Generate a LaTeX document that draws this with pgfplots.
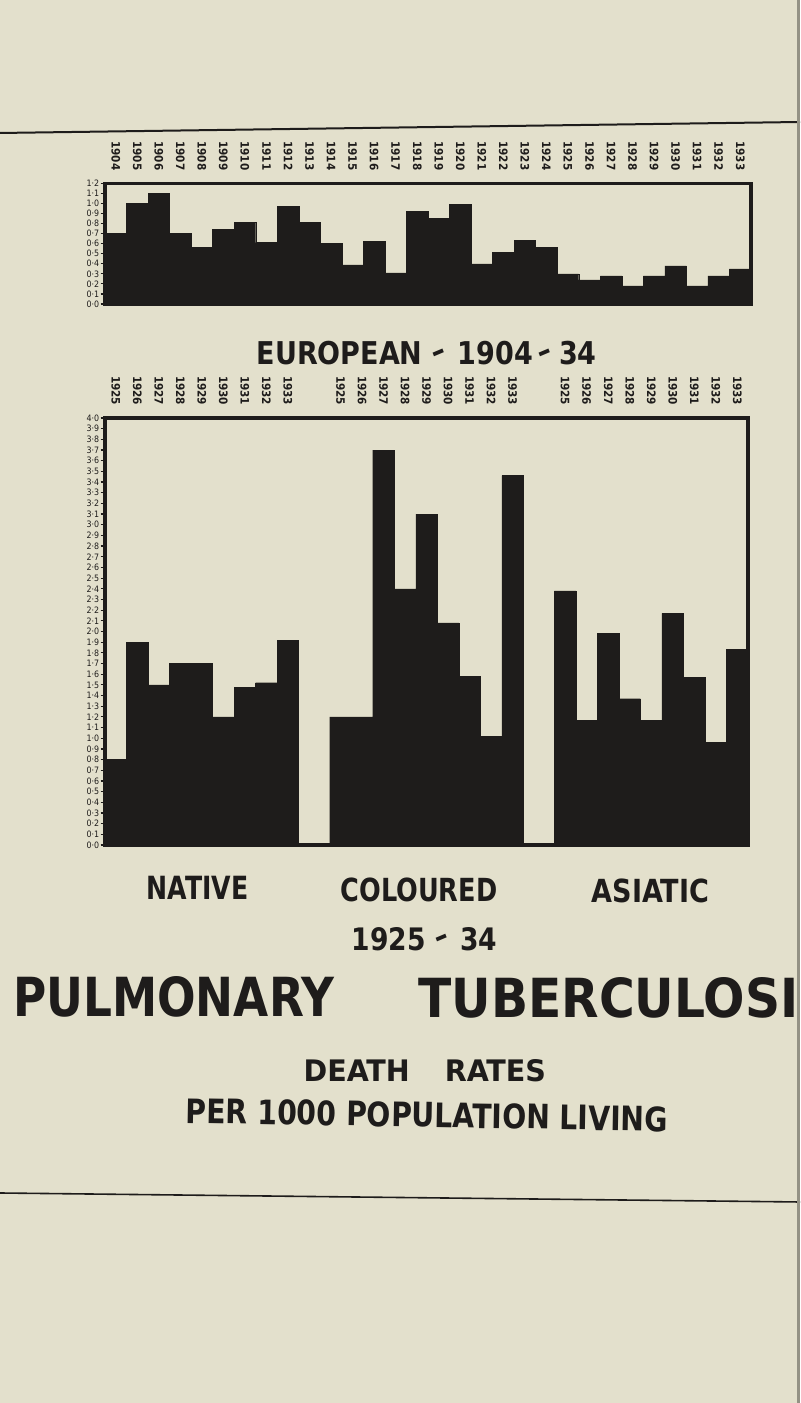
\documentclass[border=0pt]{standalone}
\usepackage{pgfplots}
\pgfplotsset{compat=1.18}
\usepackage{fontspec}
\usepackage{graphicx}
\setmainfont{DejaVu Sans}
\newfontfamily\cond{DejaVu Sans Condensed}
\definecolor{paper}{RGB}{227,224,204}
\definecolor{ink}{RGB}{30,28,27}
\newcommand\tl{\raisebox{0.12em}{\rotatebox[origin=c]{22}{\textendash}}}

\pgfplotstableread{
x y
0 0.70
1 1.00
2 1.10
3 0.70
4 0.56
5 0.74
6 0.81
7 0.61
8 0.97
9 0.81
10 0.60
11 0.39
12 0.62
13 0.31
14 0.92
15 0.85
16 0.99
17 0.40
18 0.51
19 0.63
20 0.56
21 0.30
22 0.24
23 0.28
24 0.18
25 0.28
26 0.38
27 0.18
28 0.28
29 0.35
}\european

\pgfplotstableread{
x y
0 0.80
1 1.90
2 1.50
3 1.70
4 1.70
5 1.20
6 1.48
7 1.52
8 1.92
}\native

\pgfplotstableread{
x y
10.45 1.20
11.45 1.20
12.45 3.70
13.45 2.40
14.45 3.10
15.45 2.08
16.45 1.58
17.45 1.02
18.45 3.46
}\coloured

\pgfplotstableread{
x y
20.9 2.38
21.9 1.17
22.9 1.98
23.9 1.37
24.9 1.17
25.9 2.17
26.9 1.57
27.9 0.96
28.9 1.83
}\asiatic

\pgfplotsset{chartstyle/.style={
  scale only axis, ybar, bar width=1, enlargelimits=false,
  axis line style={line width=1.5pt, ink},
  ytick pos=left, tick align=outside, major tick length=2.2pt,
  ytick style={line width=0.6pt, ink}, xtick style={draw=none},
  xticklabel pos=upper,
  xticklabel style={rotate=-90, anchor=east, font=\cond\bfseries\fontsize{5.8}{5.8}\selectfont, inner sep=0pt, text=ink},
  xticklabel shift=4pt,
  yticklabel style={font=\cond\fontsize{4.4}{4.4}\selectfont, inner sep=0.5pt, text=ink,
    /pgf/number format/.cd, fixed, fixed zerofill, precision=1, set decimal separator={·}, assume math mode=true},
}}

\begin{document}
\begin{tikzpicture}
\useasboundingbox (0,0) rectangle (400pt,701.5pt);
\fill[paper] (0,0) rectangle (400pt,701.5pt);
\begin{scope}
\clip (0,0) rectangle (400pt,701.5pt);

% rules
\draw[ink, line width=1pt] (0,635pt) -- (400pt,640.5pt);
\draw[ink, line width=0.8pt] (0,105pt) -- (400pt,100.5pt);
\fill[black!35!paper] (398.6pt,0) rectangle (400pt,701.5pt);

\begin{axis}[chartstyle, at={(52.5pt,549.5pt)}, anchor=south west,
  width=323pt, height=60.35pt, xmin=-0.5, xmax=29.5, ymin=0, ymax=1.2,
  axis line style={line width=1.7pt, ink},
  xtick={0,1,2,3,4,5,6,7,8,9,10,11,12,13,14,15,16,17,18,19,20,21,22,23,24,25,26,27,28,29},
  xticklabels={1904,1905,1906,1907,1908,1909,1910,1911,1912,1913,1914,1915,1916,1917,1918,1919,1920,1921,1922,1923,1924,1925,1926,1927,1928,1929,1930,1931,1932,1933},
  ytick={0,0.1,0.2,0.3,0.4,0.5,0.6,0.7,0.8,0.9,1.0,1.1,1.2}]
\addplot[bar shift=0pt, fill=ink, draw=ink, line width=0.2pt] table[x=x,y=y] {\european};
\end{axis}

\begin{axis}[chartstyle, at={(52.5pt,279pt)}, anchor=south west,
  width=321.5pt, height=213.5pt, xmin=-0.5, xmax=29.4, ymin=0, ymax=4,
  axis line style={line width=1.7pt, ink},
  xtick={0,1,2,3,4,5,6,7,8,10.45,11.45,12.45,13.45,14.45,15.45,16.45,17.45,18.45,20.9,21.9,22.9,23.9,24.9,25.9,26.9,27.9,28.9},
  xticklabels={1925,1926,1927,1928,1929,1930,1931,1932,1933,1925,1926,1927,1928,1929,1930,1931,1932,1933,1925,1926,1927,1928,1929,1930,1931,1932,1933},
  ytick={0,0.1,0.2,0.3,0.4,0.5,0.6,0.7,0.8,0.9,1.0,1.1,1.2,1.3,1.4,1.5,1.6,1.7,1.8,1.9,2.0,2.1,2.2,2.3,2.4,2.5,2.6,2.7,2.8,2.9,3.0,3.1,3.2,3.3,3.4,3.5,3.6,3.7,3.8,3.9,4.0}]
\addplot[bar shift=0pt, fill=ink, draw=ink, line width=0.2pt] table[x=x,y=y] {\native};
\addplot[bar shift=0pt, fill=ink, draw=ink, line width=0.2pt] table[x=x,y=y] {\coloured};
\addplot[bar shift=0pt, fill=ink, draw=ink, line width=0.2pt] table[x=x,y=y] {\asiatic};
\end{axis}

% titles
\begin{scope}[every node/.style={inner sep=0pt, text=ink, font=\cond\bfseries}]
\node at (213.35pt,524.85pt) {\resizebox{170pt}{11.65pt}{EUROPEAN \tl\ 1904\,\tl\,34}};
\node at (98.75pt,257.35pt) {\resizebox{50.8pt}{11.65pt}{NATIVE}};
\node at (209.5pt,256.5pt) {\resizebox{78.3pt}{11.8pt}{COLOURED}};
\node at (325.25pt,256pt) {\resizebox{58.7pt}{11.8pt}{ASIATIC}};
\node at (212.35pt,232pt) {\resizebox{72.7pt}{11.5pt}{1925 \tl\ 34}};
\node[anchor=west, font=\bfseries] at (6.4pt,203pt) {\resizebox{160.6pt}{20pt}{PULMONARY}};
\node[anchor=west, font=\bfseries] at (209pt,202.5pt) {\resizebox{190pt}{20pt}{TUBERCULOSI}};
\node at (212.4pt,166pt) {\resizebox{121.2pt}{11pt}{DEATH\hspace{1.1em}RATES}};
\node[rotate=-1] at (213.5pt,144pt) {\resizebox{241pt}{12.5pt}{PER 1000 POPULATION LIVING}};
\end{scope}
\end{scope}
\end{tikzpicture}
\end{document}
